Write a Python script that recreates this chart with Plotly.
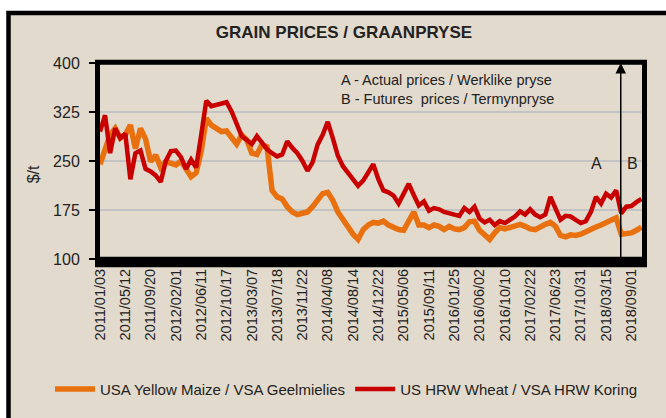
import plotly.graph_objects as go

# ---- data (one sample ~ every 1/5 of a tick interval) ----
tick_labels = ["2011/01/03", "2011/05/12", "2011/09/20", "2012/02/01", "2012/06/11",
               "2012/10/17", "2013/03/07", "2013/07/18", "2013/11/22", "2014/04/08",
               "2014/08/14", "2014/12/22", "2015/05/06", "2015/09/11", "2016/01/25",
               "2016/06/02", "2016/10/10", "2017/02/22", "2017/06/23", "2017/10/31",
               "2018/03/15", "2018/09/01"]
samples_per_tick = 5

maize = [245, 268, 290, 300, 285, 290, 305, 269, 300, 284,
         249, 259, 240, 249, 246, 244, 250, 238, 226, 232,
         265, 315, 305, 300, 295, 296, 285, 276, 290, 282,
         262, 260, 275, 272, 205, 195, 192, 180, 172, 168,
         170, 172, 180, 190, 200, 202, 190, 172, 160, 148,
         138, 130, 145, 152, 156, 155, 158, 152, 148, 145,
         144, 160, 172, 152, 152, 148, 152, 150, 145, 150,
         146, 145, 148, 157, 158, 144, 136, 130, 140, 148,
         146, 148, 150, 153, 150, 146, 145, 150, 153, 156,
         150, 136, 134, 137, 136, 138, 142, 147, 149, 152,
         155, 160, 163, 138, 138, 140, 144, 149]

wheat = [295, 320, 262, 300, 285, 292, 222, 262, 266, 238,
         234, 228, 218, 250, 265, 266, 256, 238, 252, 240,
         290, 342, 334, 336, 338, 340, 326, 305, 288, 282,
         276, 288, 278, 268, 262, 257, 260, 280, 270, 262,
         250, 235, 248, 275, 290, 310, 285, 258, 242, 232,
         222, 212, 220, 232, 245, 222, 205, 202, 197, 185,
         200, 215, 198, 182, 188, 174, 178, 176, 172, 170,
         168, 166, 178, 172, 180, 162, 156, 160, 152, 158,
         155, 160, 165, 173, 168, 176, 168, 164, 168, 195,
         178, 160, 166, 165, 160, 155, 158, 172, 195, 185,
         200, 194, 205, 170, 180, 181, 187, 192]

futures_start = 102.9   # sample position where futures prices begin (arrow)
y_ticks = [100, 175, 250, 325, 400]

title = "GRAIN PRICES / GRAANPRYSE"
name_maize = "USA Yellow Maize / VSA Geelmielies"
name_wheat = "US HRW Wheat / VSA HRW Koring"

# ---- style ----
FONT = "Liberation Sans, Arial, sans-serif"
BEIGE = "#e2dacd"
ORANGE = "#e8700f"
RED = "#c80000"
TXT = "#222222"

W, H = 666, 418
PL, PR, PT, PB = 100, 642, 62.7, 258.7

def px(xp):
    return (xp - PL) / (PR - PL)

def py(yp):
    return (PB - yp) / (PB - PT)

x_idx = list(range(len(maize)))
tickvals = [i * samples_per_tick for i in range(len(tick_labels))]

fig = go.Figure()
fig.add_trace(go.Scatter(x=x_idx, y=maize, mode="lines", name=name_maize,
                         line=dict(color=ORANGE, width=5.5)))
fig.add_trace(go.Scatter(x=list(range(len(wheat))), y=wheat, mode="lines", name=name_wheat,
                         line=dict(color=RED, width=4.5)))

shapes = [
    # outer frame with beige fill
    dict(type="rect", xref="paper", yref="paper", x0=px(8.5), x1=px(700), y0=py(12.8), y1=py(460),
         fillcolor=BEIGE, line=dict(color="black", width=4.5), layer="below"),
    # thick plot border
    dict(type="rect", xref="paper", yref="paper", x0=px(97.5), x1=px(644.5), y0=py(259), y1=py(62),
         line=dict(color="black", width=5), layer="above"),
    # heavy bottom band
    dict(type="rect", xref="paper", yref="paper", x0=px(95), x1=px(647), y0=py(267), y1=py(257),
         fillcolor="black", line=dict(width=0), layer="above"),
]

annotations = [
    dict(text="A - Actual prices / Werklike pryse", xref="paper", yref="paper",
         x=px(339), y=py(80), xanchor="left", yanchor="middle", showarrow=False,
         font=dict(size=14.5, color=TXT)),
    dict(text="B - Futures  prices / Termynpryse", xref="paper", yref="paper",
         x=px(339), y=py(99), xanchor="left", yanchor="middle", showarrow=False,
         font=dict(size=14.5, color=TXT)),
    dict(text="A", xref="paper", yref="paper", x=px(596), y=py(163), showarrow=False,
         xanchor="center", yanchor="middle", font=dict(size=16, color=TXT)),
    dict(text="B", xref="paper", yref="paper", x=px(632), y=py(163), showarrow=False,
         xanchor="center", yanchor="middle", font=dict(size=16, color=TXT)),
    dict(x=futures_start, y=400, ax=futures_start, ay=100, xref="x", yref="y",
         axref="x", ayref="y", text="", showarrow=True, arrowhead=2, arrowsize=1.4,
         arrowwidth=1.5, arrowcolor="black"),
    dict(text="$/t", xref="paper", yref="paper", x=px(33), y=py(174), textangle=-90,
         showarrow=False, xanchor="center", yanchor="middle", font=dict(size=16, color=TXT)),
]

fig.update_layout(
    width=W, height=H,
    margin=dict(l=PL, r=W - PR, t=PT, b=H - PB, autoexpand=False),
    paper_bgcolor="white",
    plot_bgcolor="rgba(0,0,0,0)",
    font=dict(family=FONT, color=TXT),
    title=dict(text="<b>" + title + "</b>", xref="container", x=344 / W, xanchor="center",
               yref="container", y=1 - 32 / H, yanchor="middle",
               font=dict(size=17, color=TXT)),
    xaxis=dict(range=[0, 107.1], tickvals=tickvals, ticktext=tick_labels, tickangle=-90,
               showgrid=False, zeroline=False, ticks="", ticklabelstandoff=6,
               tickfont=dict(size=14.5, color=TXT), showline=False),
    yaxis=dict(range=[100, 400], tickvals=y_ticks, showgrid=True, gridcolor="#c3c3c3",
               gridwidth=1.5, zeroline=False, ticks="outside", ticklen=10, tickcolor="black",
               tickwidth=1.5, ticklabelstandoff=6, tickfont=dict(size=16, color=TXT),
               showline=False),
    showlegend=True,
    legend=dict(orientation="h", x=px(50), xanchor="left", y=py(389), yanchor="middle",
                font=dict(size=15, color=TXT), bgcolor="rgba(0,0,0,0)",
                traceorder="normal", itemwidth=40),
    shapes=shapes,
    annotations=annotations,
)

fig.write_html("out.html", config={"displayModeBar": False},
               post_script="document.body.style.margin='0';document.body.style.overflow='hidden';")
